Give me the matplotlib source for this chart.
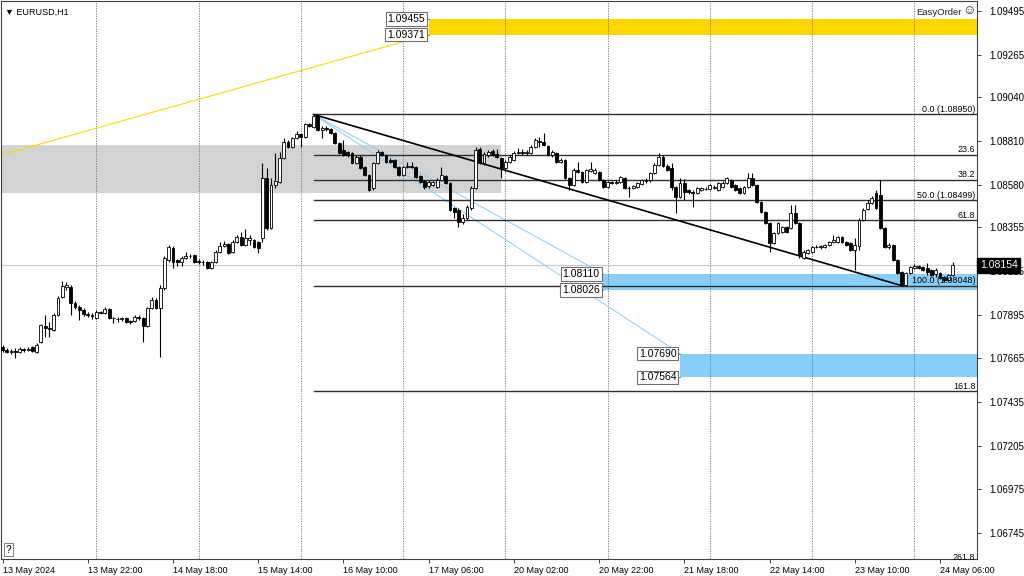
"""
EURUSD H1 candlestick chart with Fibonacci retracement and zones (MT4 style).
"""

import matplotlib
matplotlib.use("Agg")
import matplotlib.pyplot as plt
import matplotlib.transforms as mtransforms
import numpy as np

plt.rcParams['font.family'] = ['Liberation Sans', 'DejaVu Sans']

# hourly bars, 13 May 2024 01:00 (bar 1) .. 24 May 2024 09:00 (bar 225)
opens = [
    1.07751, 1.07725, 1.07709, 1.07698, 1.07704, 1.07698, 1.07714, 1.07709, 1.07725, 1.07698,
    1.07751, 1.07835, 1.07825, 1.07815, 1.07894, 1.07988, 1.08041, 1.08041, 1.07957, 1.07936,
    1.07920, 1.07899, 1.07894, 1.07878, 1.07909, 1.07904, 1.07925, 1.07878, 1.07872, 1.07872,
    1.07878, 1.07862, 1.07862, 1.07883, 1.07878, 1.07835, 1.07930, 1.07973, 1.07930, 1.08036,
    1.08183, 1.08246, 1.08183, 1.08173, 1.08193, 1.08204, 1.08210, 1.08178, 1.08173, 1.08173,
    1.08141, 1.08173, 1.08225, 1.08257, 1.08267, 1.08225, 1.08278, 1.08304, 1.08262, 1.08289,
    1.08289, 1.08278, 1.08299, 1.08615, 1.08352, 1.08578, 1.08594, 1.08720, 1.08805, 1.08778,
    1.08826, 1.08847, 1.08831, 1.08900, 1.08884, 1.08942, 1.08868, 1.08878, 1.08873, 1.08852,
    1.08799, 1.08763, 1.08752, 1.08747, 1.08694, 1.08726, 1.08673, 1.08631, 1.08562, 1.08694,
    1.08752, 1.08736, 1.08710, 1.08710, 1.08673, 1.08631, 1.08673, 1.08678, 1.08673, 1.08626,
    1.08599, 1.08573, 1.08578, 1.08568, 1.08605, 1.08626, 1.08589, 1.08457, 1.08447, 1.08383,
    1.08404, 1.08457, 1.08562, 1.08768, 1.08694, 1.08736, 1.08757, 1.08740, 1.08720, 1.08668,
    1.08699, 1.08710, 1.08747, 1.08752, 1.08747, 1.08747, 1.08778, 1.08810, 1.08805, 1.08784,
    1.08736, 1.08747, 1.08699, 1.08710, 1.08615, 1.08578, 1.08657, 1.08647, 1.08594, 1.08652,
    1.08641, 1.08647, 1.08605, 1.08568, 1.08594, 1.08589, 1.08594, 1.08615, 1.08562, 1.08562,
    1.08568, 1.08584, 1.08605, 1.08605, 1.08641, 1.08684, 1.08726, 1.08678, 1.08668, 1.08568,
    1.08515, 1.08589, 1.08552, 1.08541, 1.08536, 1.08552, 1.08557, 1.08557, 1.08562, 1.08552,
    1.08568, 1.08589, 1.08605, 1.08578, 1.08562, 1.08536, 1.08568, 1.08615, 1.08578, 1.08489,
    1.08436, 1.08378, 1.08273, 1.08325, 1.08331, 1.08357, 1.08352, 1.08431, 1.08378, 1.08194,
    1.08220, 1.08225, 1.08252, 1.08252, 1.08252, 1.08262, 1.08278, 1.08278, 1.08304, 1.08278,
    1.08273, 1.08236, 1.08257, 1.08394, 1.08452, 1.08483, 1.08536, 1.08526, 1.08352, 1.08252,
    1.08262, 1.08183, 1.08120, 1.08052, 1.08115, 1.08141, 1.08152, 1.08146, 1.08141, 1.08131,
    1.08110, 1.08115, 1.08094, 1.08078, 1.08104,
]
highs = [
    1.07762, 1.07735, 1.07719, 1.07714, 1.07719, 1.07725, 1.07719, 1.07725, 1.07730, 1.07746,
    1.07846, 1.07894, 1.07856, 1.07904, 1.07993, 1.08072, 1.08067, 1.08052, 1.07967, 1.07946,
    1.07930, 1.07909, 1.07904, 1.07920, 1.07915, 1.07935, 1.07930, 1.07883, 1.07883, 1.07883,
    1.07883, 1.07867, 1.07894, 1.07894, 1.07883, 1.07935, 1.07988, 1.07983, 1.08052, 1.08204,
    1.08262, 1.08257, 1.08188, 1.08204, 1.08225, 1.08215, 1.08215, 1.08188, 1.08183, 1.08178,
    1.08178, 1.08236, 1.08278, 1.08283, 1.08273, 1.08289, 1.08315, 1.08331, 1.08347, 1.08315,
    1.08294, 1.08283, 1.08694, 1.08668, 1.08615, 1.08747, 1.08752, 1.08826, 1.08815, 1.08831,
    1.08863, 1.08852, 1.08905, 1.08905, 1.08950, 1.08947, 1.08889, 1.08889, 1.08878, 1.08857,
    1.08805, 1.08815, 1.08757, 1.08752, 1.08736, 1.08736, 1.08678, 1.08636, 1.08699, 1.08763,
    1.08757, 1.08742, 1.08720, 1.08715, 1.08678, 1.08678, 1.08699, 1.08699, 1.08678, 1.08631,
    1.08605, 1.08605, 1.08599, 1.08615, 1.08673, 1.08631, 1.08594, 1.08462, 1.08457, 1.08425,
    1.08473, 1.08573, 1.08778, 1.08778, 1.08752, 1.08763, 1.08768, 1.08768, 1.08726, 1.08710,
    1.08736, 1.08757, 1.08773, 1.08768, 1.08763, 1.08789, 1.08826, 1.08831, 1.08852, 1.08789,
    1.08763, 1.08752, 1.08720, 1.08715, 1.08620, 1.08668, 1.08699, 1.08652, 1.08663, 1.08699,
    1.08668, 1.08652, 1.08610, 1.08599, 1.08599, 1.08605, 1.08626, 1.08620, 1.08573, 1.08578,
    1.08594, 1.08610, 1.08615, 1.08647, 1.08694, 1.08747, 1.08736, 1.08689, 1.08694, 1.08573,
    1.08615, 1.08610, 1.08557, 1.08552, 1.08568, 1.08568, 1.08568, 1.08584, 1.08578, 1.08594,
    1.08599, 1.08620, 1.08610, 1.08584, 1.08568, 1.08573, 1.08641, 1.08641, 1.08584, 1.08494,
    1.08441, 1.08383, 1.08331, 1.08383, 1.08362, 1.08362, 1.08473, 1.08473, 1.08383, 1.08236,
    1.08241, 1.08257, 1.08262, 1.08262, 1.08267, 1.08283, 1.08315, 1.08310, 1.08310, 1.08283,
    1.08278, 1.08299, 1.08404, 1.08457, 1.08499, 1.08520, 1.08552, 1.08605, 1.08357, 1.08273,
    1.08267, 1.08188, 1.08125, 1.08120, 1.08152, 1.08162, 1.08157, 1.08152, 1.08167, 1.08136,
    1.08141, 1.08120, 1.08099, 1.08110, 1.08173,
]
lows = [
    1.07709, 1.07698, 1.07693, 1.07688, 1.07667, 1.07693, 1.07698, 1.07704, 1.07698, 1.07693,
    1.07746, 1.07777, 1.07777, 1.07809, 1.07888, 1.07983, 1.08025, 1.07894, 1.07925, 1.07867,
    1.07888, 1.07883, 1.07872, 1.07872, 1.07899, 1.07899, 1.07872, 1.07851, 1.07856, 1.07862,
    1.07851, 1.07846, 1.07856, 1.07867, 1.07751, 1.07830, 1.07925, 1.07925, 1.07672, 1.08025,
    1.08173, 1.08141, 1.08152, 1.08152, 1.08188, 1.08193, 1.08167, 1.08162, 1.08157, 1.08136,
    1.08136, 1.08167, 1.08220, 1.08252, 1.08215, 1.08220, 1.08273, 1.08257, 1.08257, 1.08262,
    1.08246, 1.08220, 1.08278, 1.08341, 1.08347, 1.08562, 1.08589, 1.08715, 1.08773, 1.08773,
    1.08821, 1.08778, 1.08826, 1.08884, 1.08878, 1.08863, 1.08826, 1.08863, 1.08847, 1.08794,
    1.08742, 1.08731, 1.08726, 1.08689, 1.08689, 1.08663, 1.08626, 1.08547, 1.08552, 1.08689,
    1.08731, 1.08694, 1.08694, 1.08668, 1.08626, 1.08626, 1.08668, 1.08668, 1.08615, 1.08589,
    1.08557, 1.08562, 1.08573, 1.08562, 1.08599, 1.08584, 1.08441, 1.08404, 1.08357, 1.08373,
    1.08394, 1.08447, 1.08557, 1.08689, 1.08684, 1.08726, 1.08731, 1.08720, 1.08615, 1.08647,
    1.08694, 1.08705, 1.08742, 1.08736, 1.08736, 1.08742, 1.08773, 1.08778, 1.08784, 1.08731,
    1.08726, 1.08694, 1.08694, 1.08610, 1.08552, 1.08573, 1.08641, 1.08589, 1.08589, 1.08647,
    1.08636, 1.08599, 1.08562, 1.08562, 1.08584, 1.08584, 1.08589, 1.08557, 1.08515, 1.08557,
    1.08562, 1.08578, 1.08589, 1.08594, 1.08636, 1.08678, 1.08673, 1.08652, 1.08552, 1.08431,
    1.08510, 1.08499, 1.08531, 1.08462, 1.08531, 1.08547, 1.08552, 1.08552, 1.08557, 1.08547,
    1.08562, 1.08584, 1.08562, 1.08547, 1.08531, 1.08531, 1.08562, 1.08573, 1.08483, 1.08431,
    1.08373, 1.08225, 1.08267, 1.08320, 1.08325, 1.08325, 1.08347, 1.08373, 1.08194, 1.08188,
    1.08215, 1.08220, 1.08246, 1.08241, 1.08246, 1.08257, 1.08273, 1.08273, 1.08273, 1.08257,
    1.08231, 1.08131, 1.08236, 1.08389, 1.08447, 1.08478, 1.08452, 1.08347, 1.08246, 1.08241,
    1.08178, 1.08110, 1.08046, 1.08046, 1.08110, 1.08136, 1.08136, 1.08125, 1.08104, 1.08099,
    1.08094, 1.08083, 1.08067, 1.08073, 1.08099,
]
closes = [
    1.07719, 1.07709, 1.07698, 1.07704, 1.07698, 1.07714, 1.07709, 1.07714, 1.07704, 1.07735,
    1.07841, 1.07825, 1.07820, 1.07894, 1.07983, 1.08046, 1.08052, 1.07957, 1.07936, 1.07920,
    1.07899, 1.07894, 1.07888, 1.07909, 1.07904, 1.07925, 1.07878, 1.07876, 1.07873, 1.07878,
    1.07856, 1.07856, 1.07883, 1.07878, 1.07835, 1.07930, 1.07973, 1.07930, 1.08036, 1.08193,
    1.08252, 1.08173, 1.08173, 1.08193, 1.08204, 1.08206, 1.08173, 1.08173, 1.08171, 1.08141,
    1.08173, 1.08225, 1.08257, 1.08267, 1.08220, 1.08278, 1.08304, 1.08262, 1.08299, 1.08299,
    1.08252, 1.08246, 1.08615, 1.08352, 1.08578, 1.08599, 1.08720, 1.08805, 1.08778, 1.08826,
    1.08847, 1.08831, 1.08900, 1.08889, 1.08942, 1.08868, 1.08878, 1.08873, 1.08852, 1.08799,
    1.08747, 1.08736, 1.08737, 1.08694, 1.08726, 1.08668, 1.08631, 1.08552, 1.08694, 1.08752,
    1.08736, 1.08699, 1.08699, 1.08673, 1.08631, 1.08673, 1.08678, 1.08673, 1.08620, 1.08594,
    1.08568, 1.08594, 1.08594, 1.08605, 1.08631, 1.08589, 1.08447, 1.08436, 1.08383, 1.08404,
    1.08462, 1.08562, 1.08763, 1.08694, 1.08742, 1.08752, 1.08736, 1.08726, 1.08668, 1.08699,
    1.08726, 1.08747, 1.08752, 1.08747, 1.08752, 1.08778, 1.08815, 1.08805, 1.08789, 1.08736,
    1.08752, 1.08699, 1.08710, 1.08615, 1.08578, 1.08657, 1.08647, 1.08594, 1.08657, 1.08663,
    1.08657, 1.08605, 1.08568, 1.08594, 1.08589, 1.08594, 1.08620, 1.08562, 1.08560, 1.08573,
    1.08589, 1.08605, 1.08599, 1.08641, 1.08684, 1.08726, 1.08678, 1.08657, 1.08568, 1.08515,
    1.08589, 1.08541, 1.08541, 1.08536, 1.08562, 1.08562, 1.08559, 1.08578, 1.08568, 1.08589,
    1.08589, 1.08615, 1.08568, 1.08552, 1.08536, 1.08568, 1.08615, 1.08578, 1.08489, 1.08436,
    1.08378, 1.08273, 1.08325, 1.08378, 1.08357, 1.08331, 1.08431, 1.08378, 1.08210, 1.08225,
    1.08236, 1.08252, 1.08254, 1.08257, 1.08262, 1.08278, 1.08289, 1.08304, 1.08278, 1.08262,
    1.08236, 1.08262, 1.08394, 1.08447, 1.08483, 1.08510, 1.08457, 1.08352, 1.08252, 1.08262,
    1.08183, 1.08115, 1.08052, 1.08115, 1.08146, 1.08152, 1.08141, 1.08131, 1.08120, 1.08104,
    1.08131, 1.08088, 1.08078, 1.08104, 1.08154,
]

# time axis (bar numbers, 13 May 00:00 = bar 0)
tick_bars = [2, 22, 42, 62, 82, 102, 122, 142, 162, 182, 202, 222]
tick_labels = ["13 May 2024", "13 May 22:00", "14 May 18:00", "15 May 14:00",
               "16 May 10:00", "17 May 06:00", "20 May 02:00", "20 May 22:00",
               "21 May 18:00", "22 May 14:00", "23 May 10:00", "24 May 06:00"]
day_bars = [24, 48, 72, 96, 120, 144, 168, 192, 216]

price_ticks = [1.09495, 1.09265, 1.09040, 1.08810, 1.08580, 1.08355, 1.08125,
               1.07895, 1.07665, 1.07435, 1.07205, 1.06975, 1.06745]

# fibonacci retracement 15 May 14:00 high -> 23 May 21:00 low
fib_bars = (75, 213)
fib_prices = (1.08950, 1.08048)
fib_levels = [0.0, 23.6, 38.2, 50.0, 61.8, 100.0, 161.8, 261.8]
fib_show_price = [0.0, 50.0, 100.0]

# zones: start bar (ray to the right), top, bottom
grey_zone = (-20, 119, 1.08790, 1.08536)
yellow_zone = (102, 1.09455, 1.09371)
blue_zones = [(143, 1.08110, 1.08026), (161, 1.07690, 1.07564)]

yellow_line = ((0, 1.08726), (102, 1.09371))
blue_rays = [((75, 1.08950), (143, 1.08110)), ((75, 1.08950), (161, 1.07690))]

bid = 1.08154
symbol = "EURUSD,H1"

XMIN, XMAX = 1.64, 230.7
YMIN, YMAX = 1.06607, 1.09548

fig = plt.figure(figsize=(10.24, 5.76), dpi=100)
ax = fig.add_axes([0.001, 17 / 576, 976 / 1024, 558 / 576])
ax.set_xlim(XMIN, XMAX)
ax.set_ylim(YMIN, YMAX)

small_font = dict(fontsize=6.4, color="black")

# day separators
for d in day_bars:
    ax.axvline(d, color="#707070", lw=0.6, ls=(0, (1.5, 1.5)), zorder=1)

# zones
gx0, gx1, gtop, gbot = grey_zone
ax.fill_between([gx0, gx1], gbot, gtop, color="#D3D3D3", lw=0, zorder=0.5)
ax.fill_between([yellow_zone[0], XMAX + 5], yellow_zone[2], yellow_zone[1],
                color="#FFD700", lw=0, zorder=0.5)
for start, top, bot in blue_zones:
    ax.fill_between([start, XMAX + 5], bot, top, color="#87CEFA", lw=0, zorder=0.5)

# zone price tags
for start, top, bot in [yellow_zone] + blue_zones:
    for p in (top, bot):
        ax.plot([start - 0.7, start], [p, p], color="#808080", lw=0.7, zorder=5)
        ax.text(start - 0.85, p, f"{p:.5f}", ha="right", va="center",
                fontsize=7.5, color="black", zorder=6,
                bbox=dict(boxstyle="square,pad=0.18", fc="white",
                          ec="#707070", lw=0.8))

# bid line
ax.axhline(bid, color="#C8C8C8", lw=0.8, zorder=1)

# thin trend lines
(ax0, ay0), (ax1, ay1) = yellow_line
slope = (ay1 - ay0) / (ax1 - ax0)
ax.plot([XMIN - 5, ax1], [ay0 + slope * (XMIN - 5 - ax0), ay1],
        color="#FFD700", lw=0.8, zorder=2)
for (bx0, by0), (bx1, by1) in blue_rays:
    ax.plot([bx0, bx1], [by0, by1], color="#87CEFA", lw=0.7, zorder=2)

# fibonacci
f0, f1 = fib_bars
p0, p1 = fib_prices
rng = p0 - p1
for lvl in fib_levels:
    price = p0 - rng * lvl / 100.0
    ax.plot([f0, XMAX + 5], [price, price], color="#303030", lw=1.0, zorder=2)
    text = f"{lvl:.1f}"
    if lvl in fib_show_price:
        text += f" ({price:.5f})"
    ax.text(XMAX - 0.4, price + 0.00002, text, ha="right", va="bottom",
            zorder=6, **small_font)
ax.plot([f0, f1], [p0, p1], color="black", lw=1.2, zorder=2)

# candles
bars = np.arange(1, len(opens) + 1)
o = np.array(opens)
h = np.array(highs)
l = np.array(lows)
c = np.array(closes)
bottom = np.minimum(o, c)
height = np.maximum(np.abs(c - o), 0.000012)
colors = np.where(c >= o, "white", "black")
ax.vlines(bars, l, h, color="black", lw=0.8, zorder=3)
ax.bar(bars, height, bottom=bottom, width=0.68, color=colors,
       edgecolor="black", linewidth=0.6, zorder=4)

# axes styling
for side in ("top", "bottom", "left", "right"):
    ax.spines[side].set_color("#404040")
    ax.spines[side].set_linewidth(0.8)
ax.yaxis.tick_right()
ax.set_yticks(price_ticks)
ax.set_yticklabels([f"{p:.5f}" for p in price_ticks])
ax.tick_params(axis="y", length=3, width=0.7, pad=6, labelsize=7,
               colors="#404040", labelcolor="black")
ax.set_xticks(tick_bars)
ax.set_xticklabels(tick_labels, ha="left")
ax.tick_params(axis="x", length=3, width=0.7, pad=2, labelsize=6.5,
               colors="#404040", labelcolor="black")

# current price tag on price scale
trans = mtransforms.blended_transform_factory(ax.transAxes, ax.transData)
ax.text(1.003, bid, "1.08154", transform=trans, ha="left", va="center",
        fontsize=7.5, color="white", zorder=10, clip_on=False,
        bbox=dict(boxstyle="square,pad=0.25", fc="black", ec="black"))

# header texts
ax.text(0.004, 0.988, "\u25BC " + symbol, transform=ax.transAxes,
        ha="left", va="top", fontsize=6.5, color="black")
ax.text(0.984, 0.988, "EasyOrder", transform=ax.transAxes,
        ha="right", va="top", fontsize=6.8, color="#202020")
ax.text(0.9985, 0.993, "\u263A", transform=ax.transAxes,
        ha="right", va="top", fontsize=9.5, color="#202020")
ax.text(0.005, 0.008, "?", transform=ax.transAxes, ha="left", va="bottom",
        fontsize=7, color="black",
        bbox=dict(boxstyle="square,pad=0.2", fc="white", ec="#808080", lw=0.7))

fig.savefig("out.png", dpi=100)
plt.close(fig)
